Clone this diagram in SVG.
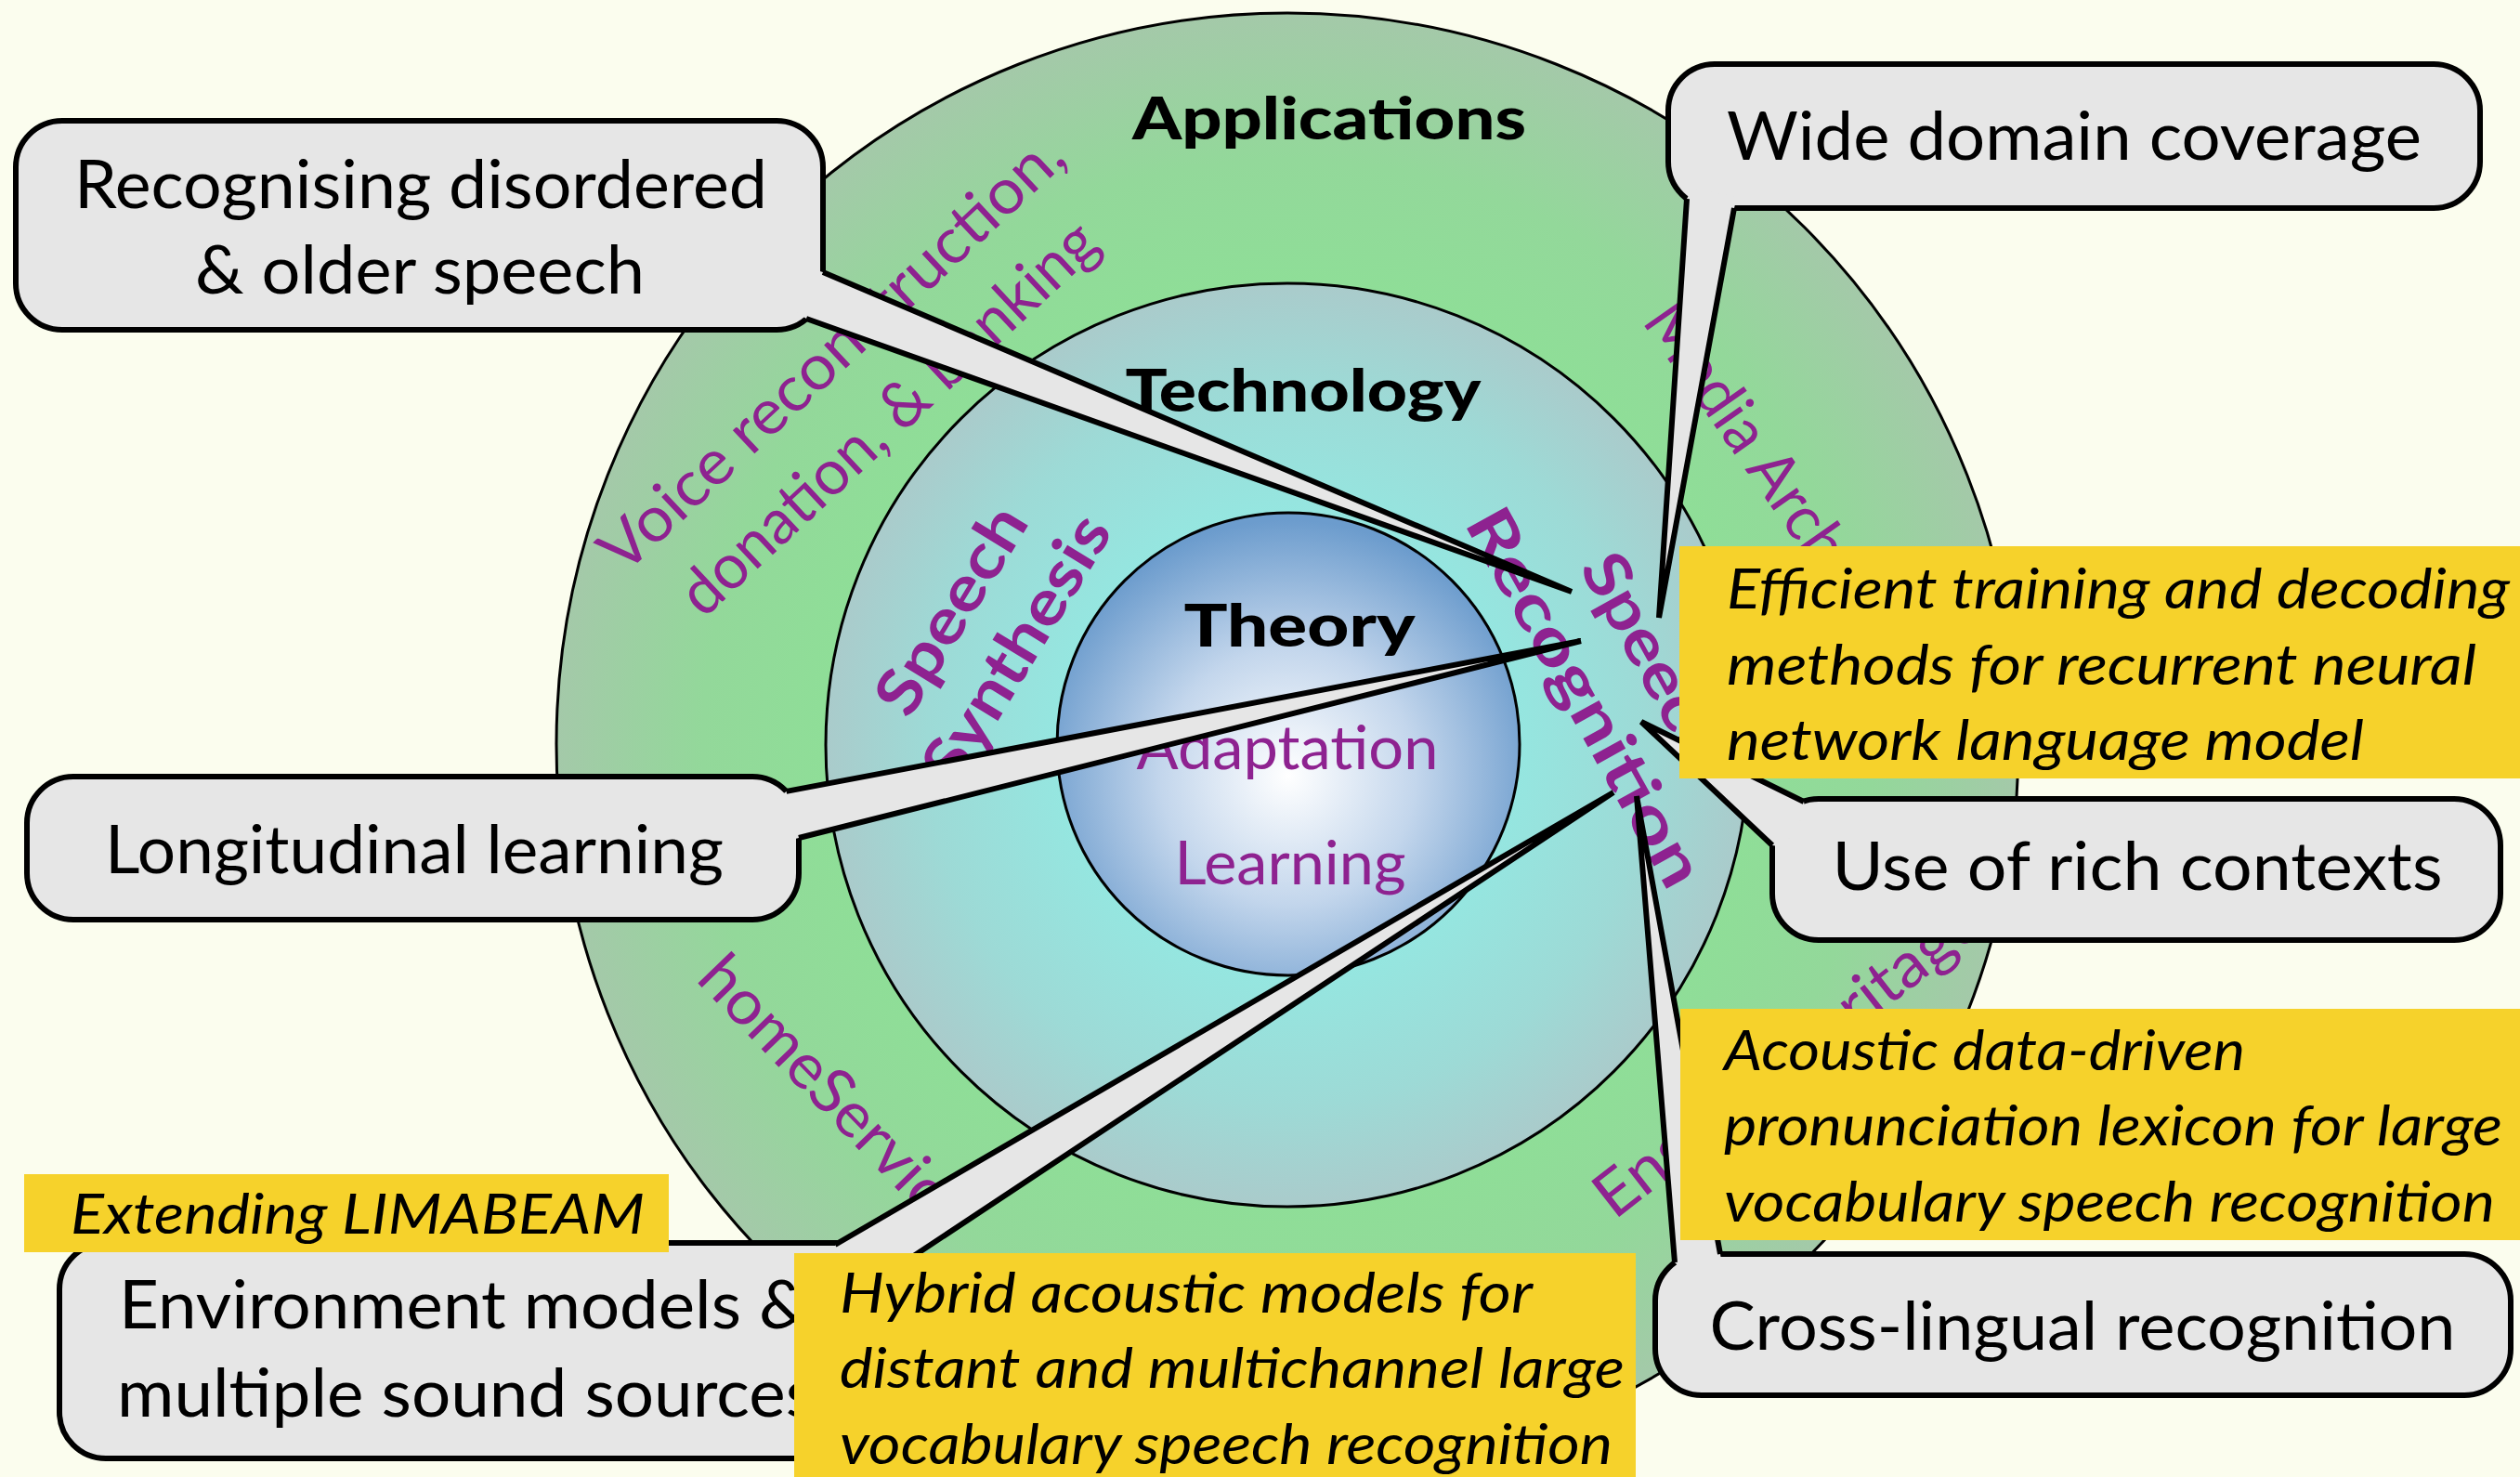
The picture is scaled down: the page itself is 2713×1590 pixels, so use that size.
<svg xmlns="http://www.w3.org/2000/svg" width="2713" height="1590" viewBox="0 0 2713 1590">
<defs>
<radialGradient id="gOuter" gradientUnits="userSpaceOnUse" cx="1386" cy="801" r="787">
<stop offset="0.6" stop-color="#8EDF97"/>
<stop offset="0.8" stop-color="#93D89A"/>
<stop offset="1" stop-color="#A4C9A9"/>
</radialGradient>
<radialGradient id="gTech" gradientUnits="userSpaceOnUse" cx="1386" cy="802" r="497">
<stop offset="0.5" stop-color="#95E6E0"/>
<stop offset="0.78" stop-color="#9DDAD6"/>
<stop offset="1" stop-color="#AACBCB"/>
</radialGradient>
<radialGradient id="gTheory" gradientUnits="userSpaceOnUse" cx="1387" cy="835" r="275">
<stop offset="0" stop-color="#FFFFFF"/>
<stop offset="0.5" stop-color="#C3D6EC"/>
<stop offset="1" stop-color="#6C9CCD"/>
</radialGradient>
<style>
.bg{fill:#FBFDEE}
.ringline{stroke:#000;stroke-width:3}
.head{font-family:Lato,"Open Sans",sans-serif;font-weight:900;font-size:62px;fill:#000;text-anchor:middle}
.topic{font-family:Lato,"Open Sans",sans-serif;font-size:66px;fill:#8E2290;text-anchor:middle}
.area{font-family:Lato,"Open Sans",sans-serif;font-weight:700;font-size:68px;fill:#8E2290;text-anchor:middle}
.app{font-family:Lato,"Open Sans",sans-serif;font-size:68px;fill:#8E2290}
.box{fill:#E6E6E6;stroke:#000;stroke-width:6}
.label{font-family:Lato,"Open Sans",sans-serif;font-size:72px;fill:#000;text-anchor:middle}
.lstart{text-anchor:start}
.wfill{fill:#E6E6E6}
.wline{fill:none;stroke:#000;stroke-width:6;stroke-linejoin:miter;stroke-miterlimit:4}
.note{fill:#F6D22B}
.ntext{font-family:Lato,"Open Sans",sans-serif;font-style:italic;font-size:61px;fill:#000}
</style>
</defs>
<rect class="bg" x="0" y="0" width="2713" height="1590"/>

<g id="rings">
<circle id="applications-ring" class="ringline" cx="1386" cy="801" r="787" fill="url(#gOuter)"/>
<circle id="technology-ring" class="ringline" cx="1386" cy="802" r="497" fill="url(#gTech)"/>
<circle id="theory-core" class="ringline" cx="1387" cy="801" r="249" fill="url(#gTheory)"/>
</g>

<g id="ring-labels">
<text class="head" x="1431" y="150" textLength="424" lengthAdjust="spacingAndGlyphs">Applications</text>
<text class="head" x="1403" y="443" textLength="383" lengthAdjust="spacingAndGlyphs">Technology</text>
<text class="head" x="1399" y="696" textLength="249" lengthAdjust="spacingAndGlyphs">Theory</text>
<text class="topic" x="1386" y="828" textLength="325" lengthAdjust="spacingAndGlyphs">Adaptation</text>
<text class="topic" x="1389" y="952" textLength="249" lengthAdjust="spacingAndGlyphs">Learning</text>
<g transform="translate(905,402) rotate(-43)">
<text class="app" text-anchor="middle" x="8" y="0" textLength="655" lengthAdjust="spacingAndGlyphs">Voice reconstruction,</text>
<text class="app" text-anchor="middle" x="5" y="93" textLength="587" lengthAdjust="spacingAndGlyphs">donation, &amp; banking</text>
</g>
<g transform="translate(1130,685) rotate(-58.6)">
<text class="area" x="-31" y="-82" textLength="250" lengthAdjust="spacingAndGlyphs">Speech</text>
<text class="area" x="-30" y="0" textLength="325" lengthAdjust="spacingAndGlyphs">Synthesis</text>
</g>
<g transform="translate(1686,762) rotate(61)">
<text class="area" x="0" y="-85" textLength="250" lengthAdjust="spacingAndGlyphs">Speech</text>
<text class="area" x="0" y="0" textLength="455" lengthAdjust="spacingAndGlyphs">Recognition</text>
</g>
<text class="app" transform="translate(1767,346) rotate(55)" textLength="440" lengthAdjust="spacingAndGlyphs">Media Archives</text>
<text class="app" transform="translate(748,1055) rotate(46)" textLength="390" lengthAdjust="spacingAndGlyphs">homeService</text>
<text class="app" transform="translate(1738,1314) rotate(-38)" textLength="509" lengthAdjust="spacingAndGlyphs">English Heritage</text>
</g>

<g id="node-disordered">
<rect class="box" x="17" y="130" width="869" height="225" rx="50"/>
<text class="label" x="453" y="224" textLength="746" lengthAdjust="spacingAndGlyphs">Recognising disordered</text>
<text class="label" x="452" y="316" textLength="484" lengthAdjust="spacingAndGlyphs">&amp; older speech</text>
</g>
<g id="node-wide-domain">
<rect class="box" x="1796" y="69" width="874" height="155" rx="50"/>
<text class="label" x="2233" y="172" textLength="748" lengthAdjust="spacingAndGlyphs">Wide domain coverage</text>
</g>
<g id="node-longitudinal">
<rect class="box" x="29" y="836" width="831" height="154" rx="50"/>
<text class="label" x="446" y="940" textLength="666" lengthAdjust="spacingAndGlyphs">Longitudinal learning</text>
</g>
<g id="node-rich-contexts">
<rect class="box" x="1908" y="860" width="784" height="152" rx="50"/>
<text class="label" x="2301" y="958" textLength="657" lengthAdjust="spacingAndGlyphs">Use of rich contexts</text>
</g>
<g id="node-cross-lingual">
<rect class="box" x="1782" y="1350" width="921" height="152" rx="50"/>
<text class="label" x="2242" y="1453" textLength="803" lengthAdjust="spacingAndGlyphs">Cross-lingual recognition</text>
</g>
<g id="node-environment">
<rect class="box" x="64" y="1338" width="896" height="232" rx="50"/>
<text class="label lstart" x="128" y="1430" textLength="742" lengthAdjust="spacingAndGlyphs">Environment models &amp;</text>
<text class="label lstart" x="126" y="1525" textLength="752" lengthAdjust="spacingAndGlyphs">multiple sound sources</text>
</g>

<g id="connectors">
<polygon class="wfill" points="886,293 1692,637 868,343 858,336 876,290"/>
<polyline class="wline" points="886,293 1692,637 868,343"/>
<polygon class="wfill" points="1816,214 1786,665 1867,224 1870,212 1822,203"/>
<polyline class="wline" points="1816,214 1786,665 1867,224"/>
<polygon class="wfill" points="846.6,851.9 1702,690 860,902 848,905 836,860"/>
<polyline class="wline" points="846.6,851.9 1702,690 860,902"/>
<polygon class="wfill" points="1908,910 1767,777 1942,863 1944,874 1920,912"/>
<polyline class="wline" points="1908,910 1767,777 1942,863"/>
<polygon class="wfill" points="1803,1359 1762,857 1852,1350 1854,1362 1812,1368"/>
<polyline class="wline" points="1803,1359 1762,857 1852,1350"/>
<polygon class="wfill" points="899,1340 1737,853 956.5,1370 945,1378 900,1352"/>
<polyline class="wline" points="899,1340 1737,853 956.5,1370"/>
</g>

<g id="note-rnnlm">
<rect class="note" x="1808" y="588" width="905" height="250"/>
<text class="ntext" x="1859" y="655" textLength="843" lengthAdjust="spacingAndGlyphs">Efficient training and decoding</text>
<text class="ntext" x="1859" y="737" textLength="807" lengthAdjust="spacingAndGlyphs">methods for recurrent neural</text>
<text class="ntext" x="1859" y="818" textLength="686" lengthAdjust="spacingAndGlyphs">network language model</text>
</g>
<g id="note-lexicon">
<rect class="note" x="1809" y="1086" width="904" height="249"/>
<text class="ntext" x="1856" y="1152" textLength="561" lengthAdjust="spacingAndGlyphs">Acoustic data-driven</text>
<text class="ntext" x="1856" y="1233" textLength="838" lengthAdjust="spacingAndGlyphs">pronunciation lexicon for large</text>
<text class="ntext" x="1856" y="1315" textLength="830" lengthAdjust="spacingAndGlyphs">vocabulary speech recognition</text>
</g>
<g id="note-limabeam">
<rect class="note" x="26" y="1264" width="694" height="84"/>
<text class="ntext" x="76" y="1328" textLength="618" lengthAdjust="spacingAndGlyphs">Extending LIMABEAM</text>
</g>
<g id="note-hybrid">
<rect class="note" x="855" y="1349" width="906" height="241"/>
<text class="ntext" x="904" y="1413" textLength="746" lengthAdjust="spacingAndGlyphs">Hybrid acoustic models for</text>
<text class="ntext" x="904" y="1494" textLength="845" lengthAdjust="spacingAndGlyphs">distant and multichannel large</text>
<text class="ntext" x="904" y="1576" textLength="832" lengthAdjust="spacingAndGlyphs">vocabulary speech recognition</text>
</g>
</svg>
